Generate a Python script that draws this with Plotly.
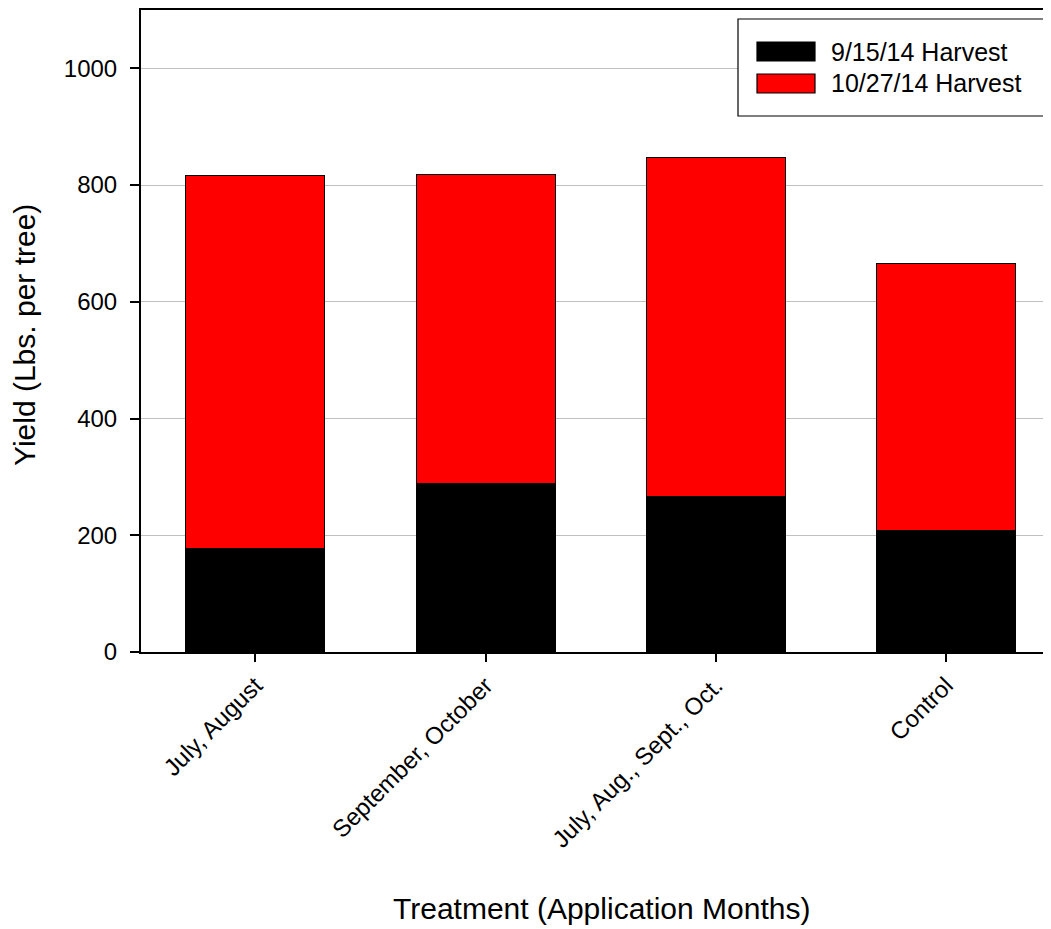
import plotly.graph_objects as go

categories = ["July, August", "September, October", "July, Aug., Sept., Oct.", "Control"]
series_names = ["9/15/14 Harvest", "10/27/14 Harvest"]
harvest_sep = [178, 288, 267, 208]
harvest_oct = [638, 530, 580, 457]
series_colors = ["#000000", "#FF0000"]
y_ticks = [0, 200, 400, 600, 800, 1000]

# page body margin offset (px)
OFF = 8
W, H = 1051 - OFF, 929 - OFF
# plot area in screen pixels: left 141, right 1051, top 10, bottom 652
L = 141 - OFF
T = 10 - OFF
R = 0
B = H - (652 - OFF)
PW = W - L - R
PH = H - T - B

def px(x):
    return (x - OFF - L) / PW

def py(y):
    return ((652 - OFF) - (y - OFF)) / PH

FONT = "Arial, Liberation Sans, sans-serif"

fig = go.Figure()
for name, vals, col in zip(series_names, [harvest_sep, harvest_oct], series_colors):
    fig.add_trace(go.Bar(
        x=categories, y=vals, name=name,
        marker=dict(color=col, line=dict(color="#000000", width=1)),
        showlegend=False,
    ))

# manual legend
shapes = [dict(type="rect", xref="paper", yref="paper",
               x0=px(738), x1=px(1048), y0=py(116), y1=py(19),
               line=dict(color="#000000", width=1.2), fillcolor="white", layer="above")]
annotations = []
sym_rows = [(42, 61, 52), (74, 93, 83)]
for (y0, y1, yc), name, col in zip(sym_rows, series_names, series_colors):
    shapes.append(dict(type="rect", xref="paper", yref="paper",
                       x0=px(757), x1=px(815), y0=py(y1), y1=py(y0),
                       line=dict(color="#000000", width=1.2), fillcolor=col, layer="above"))
    annotations.append(dict(text=name, xref="paper", yref="paper",
                            x=px(829), y=py(yc), xanchor="left", yanchor="middle",
                            showarrow=False, font=dict(family=FONT, size=25, color="#000000")))

annotations.append(dict(text="Treatment (Application Months)", xref="paper", yref="paper",
                        x=px(601), y=py(908), xanchor="center", yanchor="middle",
                        showarrow=False, font=dict(family=FONT, size=30, color="#000000")))
annotations.append(dict(text="Yield (Lbs. per tree)", xref="paper", yref="paper",
                        x=px(24), y=py(335), xanchor="center", yanchor="middle",
                        textangle=-90,
                        showarrow=False, font=dict(family=FONT, size=30, color="#000000")))

fig.update_layout(
    width=W, height=H,
    margin=dict(l=L, r=R, t=T, b=B, autoexpand=False),
    barmode="stack", bargap=0.396,
    plot_bgcolor="white", paper_bgcolor="white",
    font=dict(family=FONT, size=24, color="#000000"),
    shapes=shapes, annotations=annotations,
    showlegend=False,
)
fig.update_xaxes(
    range=[-0.497, 3.456], tickangle=-45,
    showline=True, linecolor="#000000", linewidth=2, mirror=True,
    ticks="outside", ticklen=8, tickwidth=1.5, tickcolor="#000000",
    showgrid=False, tickfont=dict(family=FONT, size=24, color="#000000"),
    automargin=False,
)
fig.update_yaxes(
    range=[0, 1100], tickvals=y_ticks,
    showline=True, linecolor="#000000", linewidth=2, mirror=False,
    ticks="outside", ticklen=9, tickwidth=1.5, tickcolor="#000000",
    showgrid=True, gridcolor="#c0c0c0", gridwidth=1.3, zeroline=False,
    tickfont=dict(family=FONT, size=24, color="#000000"),
    ticklabelstandoff=8, automargin=False,
)

fig.write_html("out.html")
